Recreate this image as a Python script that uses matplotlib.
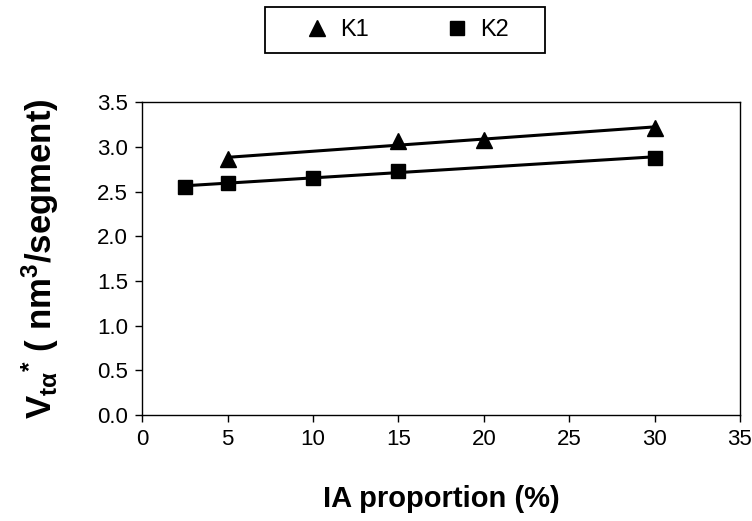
import matplotlib
matplotlib.use('Agg')
import matplotlib.pyplot as plt
from matplotlib.patches import Rectangle
import numpy as np

plt.rcParams['font.family'] = ['Liberation Sans', 'DejaVu Sans']
plt.rcParams['mathtext.fontset'] = 'custom'
plt.rcParams['mathtext.rm'] = 'Liberation Sans'
plt.rcParams['mathtext.it'] = 'Liberation Sans:italic'
plt.rcParams['mathtext.bf'] = 'Liberation Sans:bold'

# Data
k1_x = [5, 15, 20, 30]
k1_y = [2.86, 3.06, 3.08, 3.21]
k2_x = [2.5, 5, 10, 15, 30]
k2_y = [2.55, 2.60, 2.65, 2.73, 2.88]

fig = plt.figure(figsize=(7.52, 5.21), dpi=100)
ax = fig.add_axes([0.189, 0.2035, 0.795, 0.6005])

# markers
ax.plot(k1_x, k1_y, linestyle='none', marker='^', color='black', markersize=12, label='K1')
ax.plot(k2_x, k2_y, linestyle='none', marker='s', color='black', markersize=10.5, label='K2')

# linear trend lines
for xs, ys in [(k1_x, k1_y), (k2_x, k2_y)]:
    p = np.polyfit(xs, ys, 1)
    xx = np.array([min(xs), max(xs)])
    ax.plot(xx, np.polyval(p, xx), color='black', linewidth=2.2)

ax.set_xlim(0, 35)
ax.set_ylim(0, 3.5)
ax.set_xticks(np.arange(0, 36, 5))
ax.set_yticks(np.arange(0, 3.6, 0.5))
ax.set_yticklabels([f'{v:.1f}' for v in np.arange(0, 3.6, 0.5)])
ax.tick_params(direction='out', length=5, width=1, labelsize=16, pad=5)
for s in ax.spines.values():
    s.set_linewidth(1)

ax.set_xlabel('IA proportion (%)', fontsize=21, fontweight='bold', labelpad=25)
ax.set_ylabel(r'V$_{\mathbf{tα}}$$^{\mathbf{*}}$ ( nm$^{\mathbf{3}}$/segment)',
              fontsize=25, fontweight='bold', labelpad=26)

# legend (frame drawn separately)
handles, labels = ax.get_legend_handles_labels()
leg = fig.legend(handles, labels, loc='center', bbox_to_anchor=(407 / 752, 1 - 30 / 521), ncol=2,
                 fontsize=17, frameon=False, markerscale=1.0,
                 handlelength=1.0, handletextpad=0.5, columnspacing=3.2)
fig.patches.append(Rectangle((265 / 752, 1 - 53 / 521), 280 / 752, 46 / 521,
                             transform=fig.transFigure, fill=False,
                             edgecolor='black', linewidth=1.3))

plt.savefig('out.png', dpi=100)
